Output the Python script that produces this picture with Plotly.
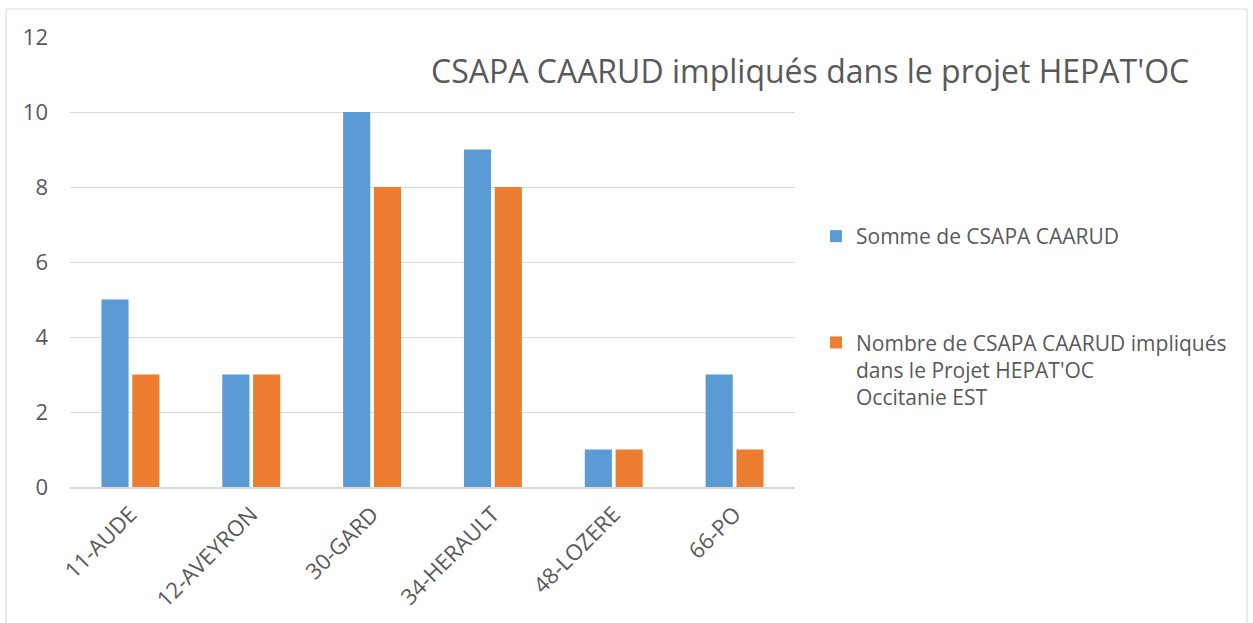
import plotly.graph_objects as go

categories = ["11-AUDE", "12-AVEYRON", "30-GARD", "34-HERAULT", "48-LOZERE", "66-PO"]
somme_csapa = [5, 3, 10, 9, 1, 3]
impliques = [3, 3, 8, 8, 1, 1]
series_names = [
    "Somme de CSAPA CAARUD",
    "Nombre de CSAPA CAARUD impliqués<br>dans le Projet HEPAT'OC<br>Occitanie EST",
]
y_ticks = [0, 2, 4, 6, 8, 10, 12]
title_text = "CSAPA CAARUD impliqués dans le projet HEPAT'OC"

FONT = "Open Sans"
GREY = "#595959"

W, H = 1253, 623
L, R, T, B = 70, 458, 37, 136
PW, PH = W - L - R, H - T - B


def px_x(x):
    return (x - L) / PW


def px_y(y):
    return (H - B - y) / PH


fig = go.Figure()
fig.add_trace(go.Bar(x=categories, y=somme_csapa, name=series_names[0],
                     marker=dict(color="#5B9BD5", line=dict(width=0)),
                     legendgroup="a"))
fig.add_trace(go.Bar(x=categories, y=impliques, name=series_names[1],
                     marker=dict(color="#ED7D31", line=dict(width=0)),
                     legendgroup="b"))

fig.update_layout(
    width=W, height=H,
    margin=dict(l=L, r=R, t=T, b=B, autoexpand=False),
    paper_bgcolor="white", plot_bgcolor="white",
    barmode="group", bargap=0.49, bargroupgap=0.12,
    font=dict(family=FONT, color=GREY),
    title=dict(text=title_text, font=dict(family=FONT, size=32, color=GREY),
               xref="container", yref="container",
               x=431 / W, xanchor="left", y=1 - 72 / H, yanchor="middle"),
    legend=dict(x=px_x(816), xanchor="left", y=px_y(216), yanchor="top",
                font=dict(family=FONT, size=21, color=GREY),
                traceorder="grouped", tracegroupgap=76, valign="top",
                bgcolor="rgba(0,0,0,0)"),
    showlegend=True,
    shapes=[dict(type="rect", xref="paper", yref="paper",
                 x0=px_x(6), x1=px_x(1247), y0=px_y(650), y1=px_y(9),
                 line=dict(color="#d9d9d9", width=1), layer="below")],
)

fig.update_yaxes(range=[0, 12], tickvals=y_ticks, showgrid=True,
                 gridcolor="#d9d9d9", gridwidth=1, zeroline=False,
                 showline=False, tickfont=dict(size=22, color=GREY),
                 ticklabelstandoff=21, fixedrange=True, automargin=False)
fig.update_xaxes(showline=True, linecolor="#d9d9d9", linewidth=1.5,
                 tickangle=-45, tickfont=dict(size=22, color=GREY),
                 ticklabelstandoff=4, fixedrange=True, automargin=False)

fig.write_html("out.html", config={"displayModeBar": False},
               post_script="document.body.style.margin='0';")
